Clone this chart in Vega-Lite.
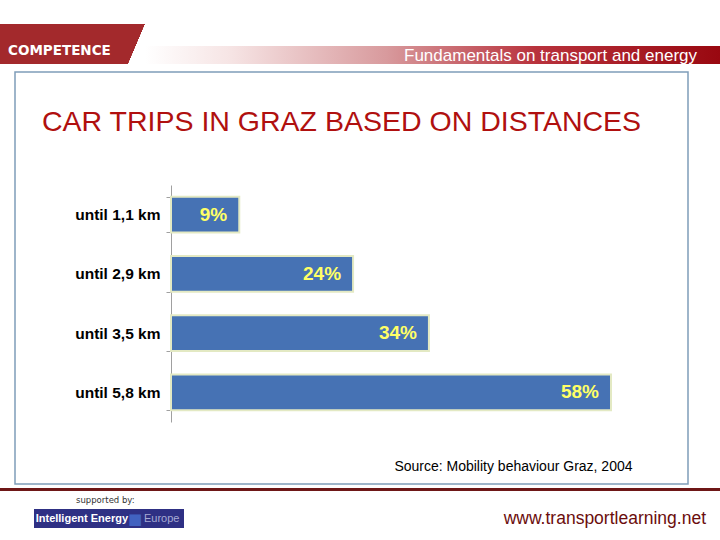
{
  "$schema": "https://vega.github.io/schema/vega-lite/v6.json",
  "background": "white",
  "padding": {"top": 24, "left": 0, "right": 0, "bottom": 0},
  "config": {
    "view": {"stroke": null},
    "font": "Liberation Sans"
  },
  "spacing": 0,
  "vconcat": [
    {
      "bounds": "flush",
      "spacing": 0,
      "hconcat": [
        {
          "width": 145,
          "height": 40,
          "title": {
            "text": "COMPETENCE",
            "anchor": "start",
            "frame": "group",
            "offset": -44,
            "dx": 8,
            "baseline": "alphabetic",
            "font": "DejaVu Sans",
            "fontSize": 13.5,
            "fontWeight": "bold",
            "color": "#ffffff"
          },
          "data": {"values": [{"part": "logo block"}]},
          "mark": {
            "type": "rect",
            "fill": {
              "gradient": "linear",
              "x1": 0, "y1": 0, "x2": 1, "y2": 0.117,
              "stops": [
                {"offset": 0, "color": "#a3292c"},
                {"offset": 0.985, "color": "#a3292c"},
                {"offset": 0.987, "color": "#ffffff"},
                {"offset": 1, "color": "#ffffff"}
              ]
            }
          },
          "encoding": {}
        },
        {
          "width": 575,
          "height": 40,
          "title": {
            "text": "Fundamentals on transport and energy",
            "anchor": "end",
            "frame": "group",
            "offset": -53.5,
            "dx": -23,
            "baseline": "alphabetic",
            "font": "Liberation Sans",
            "fontSize": 17,
            "fontWeight": "normal",
            "color": "#ffffff"
          },
          "data": {"values": [{"part": "header band"}]},
          "layer": [
            {
              "mark": {
                "type": "rect",
                "fill": {
                  "gradient": "linear",
                  "x1": 0, "y1": 0, "x2": 1, "y2": 0,
                  "stops": [
                    {"offset": 0, "color": "#ffffff"},
                    {"offset": 0.15, "color": "#f6e4e4"},
                    {"offset": 0.42, "color": "#d89a9d"},
                    {"offset": 0.68, "color": "#b8323c"},
                    {"offset": 1, "color": "#990810"}
                  ]
                }
              },
              "encoding": {}
            },
            {
              "mark": {
                "type": "rect",
                "fill": {
                  "gradient": "linear",
                  "x1": 0, "y1": 0, "x2": 0, "y2": 1,
                  "stops": [
                    {"offset": 0, "color": "#ffffff"},
                    {"offset": 0.55, "color": "#ffffff"},
                    {"offset": 0.551, "color": "rgba(255,255,255,0)"},
                    {"offset": 1, "color": "rgba(255,255,255,0)"}
                  ]
                }
              },
              "encoding": {}
            }
          ]
        }
      ]
    },
    {
      "bounds": "flush",
      "spacing": 14,
      "hconcat": [
        {
          "width": 1,
          "height": 1,
          "data": {"values": [{"part": "margin"}]},
          "mark": {"type": "rect", "opacity": 0},
          "encoding": {}
        },
        {
          "width": 673,
          "height": 412,
          "view": {"stroke": "#7f9db9", "strokeWidth": 1.5, "fill": "#ffffff"},
          "title": {
            "text": "CAR TRIPS IN GRAZ BASED ON DISTANCES",
            "anchor": "start",
            "frame": "group",
            "offset": -94.5,
            "dx": 27,
            "baseline": "alphabetic",
            "font": "Liberation Sans",
            "fontSize": 28.5,
            "fontWeight": "normal",
            "color": "#b0100f"
          },
          "data": {
            "values": [
              {"distance": "until 1,1 km", "share": 9, "label": "9%"},
              {"distance": "until 2,9 km", "share": 24, "label": "24%"},
              {"distance": "until 3,5 km", "share": 34, "label": "34%"},
              {"distance": "until 5,8 km", "share": 58, "label": "58%"}
            ]
          },
          "encoding": {
            "y": {
              "field": "distance",
              "type": "nominal",
              "sort": null,
              "scale": {"range": [113, 350], "paddingInner": 0.4, "paddingOuter": 0.2},
              "axis": {
                "orient": "left",
                "offset": -156,
                "title": null,
                "grid": false,
                "labelFont": "Liberation Sans",
                "labelFontSize": 15.5,
                "labelFontWeight": "bold",
                "labelColor": "#000000",
                "labelPadding": 6,
                "ticks": true,
                "tickSize": 5,
                "tickColor": "#a0a0a0",
                "tickBand": "extent",
                "domainColor": "#a0a0a0",
                "domainWidth": 1
              }
            },
            "x": {
              "field": "share",
              "type": "quantitative",
              "scale": {"domain": [0, 58], "range": [156, 596], "nice": false},
              "axis": {
                "labels": false,
                "ticks": false,
                "domain": false,
                "grid": false,
                "title": "Source: Mobility behaviour Graz, 2004",
                "titleX": 617,
                "titleY": -14,
                "titleAlign": "right",
                "titleBaseline": "alphabetic",
                "titleFont": "Liberation Sans",
                "titleFontSize": 14,
                "titleFontWeight": "normal",
                "titleColor": "#000000"
              }
            }
          },
          "layer": [
            {
              "mark": {"type": "bar", "fill": "#4672b4", "stroke": "#e3e9c3", "strokeWidth": 2}
            },
            {
              "mark": {
                "type": "text",
                "align": "right",
                "baseline": "middle",
                "dx": -12,
                "font": "Liberation Sans",
                "fontSize": 19,
                "fontWeight": "bold",
                "fill": "#ffff66"
              },
              "encoding": {"text": {"field": "label", "type": "nominal"}}
            }
          ]
        }
      ]
    },
    {
      "width": 1,
      "height": 2.5,
      "data": {"values": [{"part": "gap"}]},
      "mark": {"type": "rect", "opacity": 0},
      "encoding": {}
    },
    {
      "width": 720,
      "height": 3,
      "title": {
        "text": "supported by:",
        "orient": "bottom",
        "anchor": "start",
        "frame": "group",
        "offset": 12,
        "dx": 76,
        "baseline": "alphabetic",
        "font": "DejaVu Sans",
        "fontSize": 8.5,
        "fontWeight": "normal",
        "color": "#333333"
      },
      "data": {"values": [{"part": "footer line"}]},
      "mark": {"type": "rect", "fill": "#6e1717"},
      "encoding": {}
    },
    {
      "width": 1,
      "height": 3.5,
      "data": {"values": [{"part": "gap"}]},
      "mark": {"type": "rect", "opacity": 0},
      "encoding": {}
    },
    {
      "bounds": "flush",
      "spacing": 33,
      "hconcat": [
        {
          "width": 1,
          "height": 1,
          "data": {"values": [{"part": "margin"}]},
          "mark": {"type": "rect", "opacity": 0},
          "encoding": {}
        },
        {
          "width": 150,
          "height": 19,
          "data": {"values": [{"a": "Intelligent Energy", "b": "■", "c": "Europe"}]},
          "layer": [
            {"mark": {"type": "rect", "fill": "#2e3084"}, "encoding": {}},
            {
              "mark": {"type": "text", "align": "right", "baseline": "middle", "dx": 19, "font": "Liberation Sans", "fontSize": 11, "fontWeight": "bold", "fill": "#ffffff"},
              "encoding": {"text": {"field": "a", "type": "nominal"}}
            },
            {
              "mark": {"type": "text", "align": "center", "baseline": "middle", "dx": 26, "font": "DejaVu Sans", "fontSize": 15, "fill": "#4162c0"},
              "encoding": {"text": {"field": "b", "type": "nominal"}}
            },
            {
              "mark": {"type": "text", "align": "left", "baseline": "middle", "dx": 35, "font": "Liberation Sans", "fontSize": 11, "fontWeight": "normal", "fill": "#a7abd4"},
              "encoding": {"text": {"field": "c", "type": "nominal"}}
            }
          ]
        },
        {
          "width": 503,
          "height": 19,
          "title": {
            "text": "www.transportlearning.net",
            "anchor": "end",
            "frame": "group",
            "offset": -32.5,
            "dx": -14,
            "baseline": "alphabetic",
            "font": "Liberation Sans",
            "fontSize": 17.5,
            "fontWeight": "normal",
            "color": "#6b0d0d"
          },
          "data": {"values": [{"part": "site"}]},
          "mark": {"type": "rect", "opacity": 0},
          "encoding": {}
        }
      ]
    }
  ]
}
